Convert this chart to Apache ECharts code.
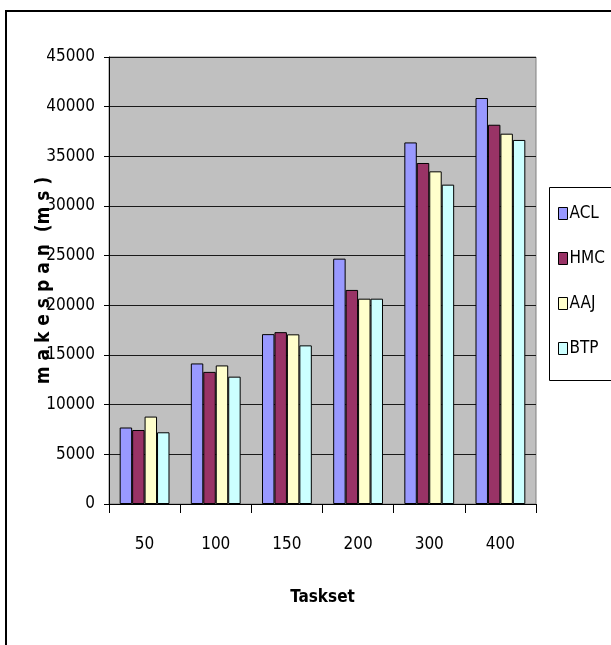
<!DOCTYPE html>
<html><head><meta charset="utf-8">
<script src="https://cdn.jsdelivr.net/npm/echarts@6/dist/echarts.min.js"></script>
<style>html,body{margin:0;padding:0;background:#fff}#c{width:611px;height:645px}</style>
</head><body><div id="c"></div>
<script>
const categories = ['50','100','150','200','300','400'];
const seriesNames = ['ACL','HMC','AAJ','BTP'];
const ACL = [7700, 14150, 17100, 24700, 36400, 40870];
const HMC = [7450, 13300, 17300, 21550, 34330, 38180];
const AAJ = [8800, 13950, 17080, 20670, 33490, 37280];
const BTP = [7220, 12820, 15970, 20670, 32150, 36650];
const colors = ['#9999FF','#993366','#FFFFCC','#CCFFFF'];
const FONT = '"Liberation Sans Narrow", "DejaVu Sans Condensed", "Arial Narrow", sans-serif';
const chart = echarts.init(document.getElementById('c'));
const data = [ACL, HMC, AAJ, BTP];
chart.setOption({
  animation: false,
  grid: {left: 109, right: 75, top: 57, bottom: 141, show: true, backgroundColor: '#C0C0C0', borderColor: '#808080', borderWidth: 1},
  legend: {
    orient: 'vertical', left: 553, top: 200, itemGap: 28, itemWidth: 9, itemHeight: 12,
    icon: 'rect',
    itemStyle: {borderColor: '#000', borderWidth: 1},
    textStyle: {fontFamily: FONT, fontSize: 17, color: '#000', padding: [0,0,0,-3]},
    data: seriesNames
  },
  xAxis: {
    type: 'category', data: categories,
    axisLine: {lineStyle: {color: '#000', width: 1}},
    axisTick: {show: true, length: 9, lineStyle: {color: '#000'}},
    axisLabel: {margin: 32, fontFamily: FONT, fontSize: 17, color: '#000'},
    name: 'Taskset', nameLocation: 'middle', nameGap: 85,
    nameTextStyle: {fontFamily: FONT, fontSize: 17, fontWeight: 'bold', color: '#000'}
  },
  yAxis: {
    type: 'value', min: 0, max: 45000, interval: 5000,
    axisLine: {show: true, lineStyle: {color: '#000', width: 1}},
    axisTick: {show: true, length: 5, lineStyle: {color: '#000'}},
    axisLabel: {margin: 14, fontFamily: FONT, fontSize: 17, color: '#000', formatter: v => String(v)},
    splitLine: {lineStyle: {color: '#1a1a1a', width: 1}},
    name: 'm a k e s p a n  (m s )', nameLocation: 'middle', nameGap: 55, nameRotate: 90,
    nameMoveOverlap: false,
    nameTextStyle: {fontFamily: FONT, fontSize: 19, fontWeight: 'bold', color: '#000'}
  },
  series: seriesNames.map((n, i) => ({
    name: n, type: 'bar', data: data[i], barGap: '0%', barCategoryGap: '30%',
    itemStyle: {color: colors[i], borderColor: '#000', borderWidth: 1}
  })),
  graphic: [
    {type: 'polyline', shape: {points: [[6, 700], [6, 11], [700, 11]]}, style: {fill: 'none', stroke: '#000', lineWidth: 2}, silent: true},
    {type: 'polyline', shape: {points: [[700, 187.5], [549.5, 187.5], [549.5, 380.5], [700, 380.5]]}, style: {fill: 'none', stroke: '#000', lineWidth: 1}, silent: true}
  ]
});
</script></body></html>
